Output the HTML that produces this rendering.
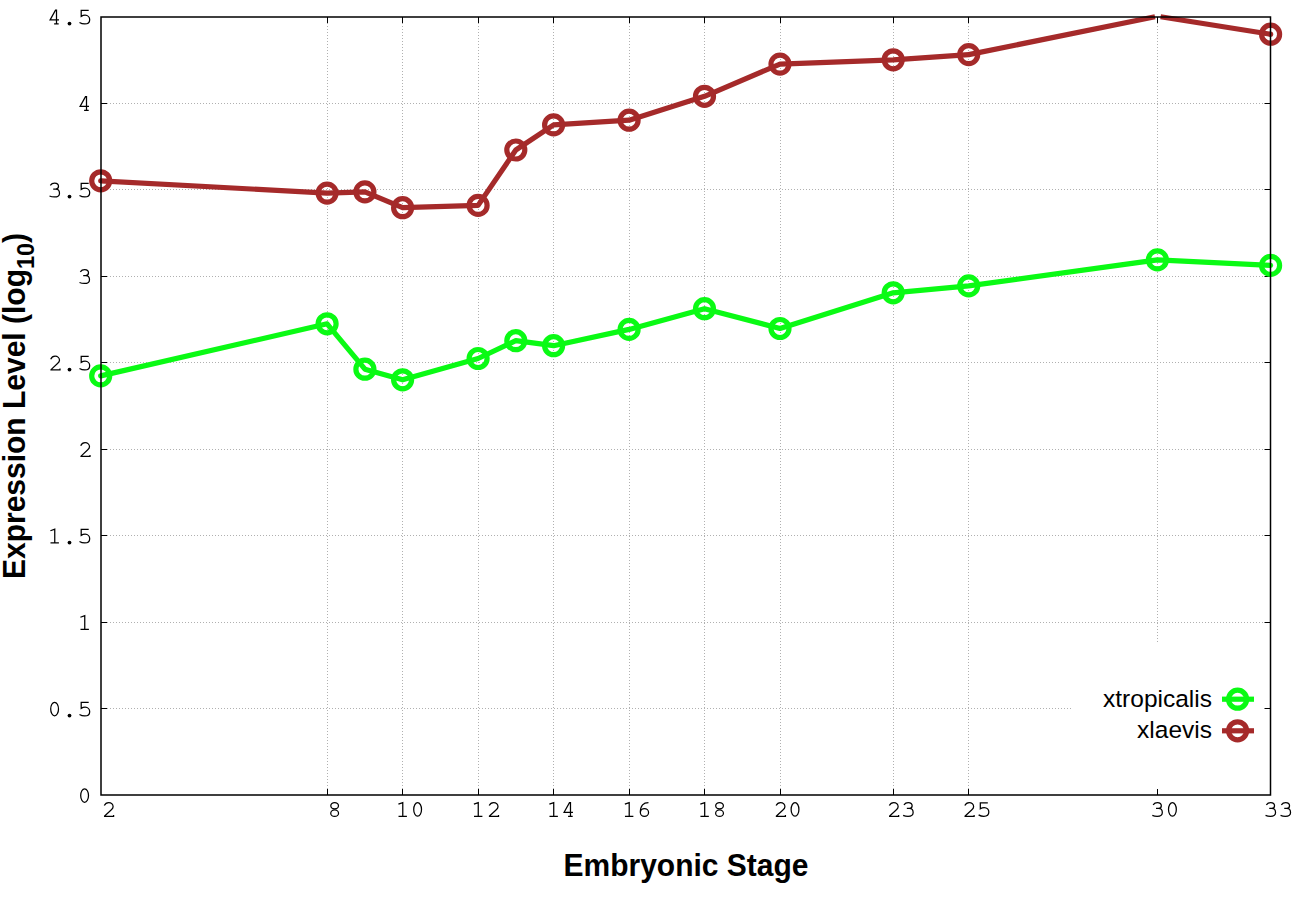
<!DOCTYPE html><html><head><meta charset="utf-8"><style>html,body{margin:0;padding:0;background:#fff;}svg{display:block}</style></head><body>
<svg width="1296" height="907" viewBox="0 0 1296 907">
<rect width="1296" height="907" fill="#fff"/>
<path d="M107.0 708.5H1264.5 M107.0 622.5H1264.5 M107.0 535.5H1264.5 M107.0 449.5H1264.5 M107.0 362.5H1264.5 M107.0 276.5H1264.5 M107.0 189.5H1264.5 M107.0 103.5H1264.5 M327.5 789.0V23.0 M402.5 789.0V23.0 M478.5 789.0V23.0 M553.5 789.0V23.0 M629.5 789.0V23.0 M704.5 789.0V23.0 M780.5 789.0V23.0 M893.5 789.0V23.0 M968.5 789.0V23.0 M1157.5 789.0V23.0" stroke="#b0b0b0" stroke-width="1" stroke-dasharray="1 2" fill="none"/>
<rect x="1071" y="642" width="198.5" height="152.0" fill="#fff"/>
<path d="M101.0 708.5h6M1270.5 708.5h-6 M101.0 622.5h6M1270.5 622.5h-6 M101.0 535.5h6M1270.5 535.5h-6 M101.0 449.5h6M1270.5 449.5h-6 M101.0 362.5h6M1270.5 362.5h-6 M101.0 276.5h6M1270.5 276.5h-6 M101.0 189.5h6M1270.5 189.5h-6 M101.0 103.5h6M1270.5 103.5h-6 M327.5 795.0v-6M327.5 17.0v6 M402.5 795.0v-6M402.5 17.0v6 M478.5 795.0v-6M478.5 17.0v6 M553.5 795.0v-6M553.5 17.0v6 M629.5 795.0v-6M629.5 17.0v6 M704.5 795.0v-6M704.5 17.0v6 M780.5 795.0v-6M780.5 17.0v6 M893.5 795.0v-6M893.5 17.0v6 M968.5 795.0v-6M968.5 17.0v6 M1157.5 795.0v-6M1157.5 17.0v6" stroke="#000" stroke-width="1" fill="none"/>
<polyline points="100.7,375.9 327.1,323.8 364.9,369.2 402.6,379.8 478.1,358.5 515.8,340.7 553.6,345.7 629.1,329.4 704.5,308.7 780.0,328.5 893.2,292.8 968.7,285.9 1157.4,259.9 1270.6,265.4" fill="none" stroke="#0afa14" stroke-width="5.2" stroke-linejoin="round" stroke-linecap="round"/>
<polyline points="100.7,180.8 327.1,193.1 364.9,191.9 402.6,207.7 478.1,205.4 515.8,150.0 553.6,124.9 629.1,120.2 704.5,96.3 780.0,64.1 893.2,59.8 968.7,54.6" fill="none" stroke="#a52a2a" stroke-width="5.2" stroke-linejoin="round" stroke-linecap="round"/>
<path d="M968.7 54.6L1155.0 16.8M1160.6 16.8L1270.6 34.2" fill="none" stroke="#a52a2a" stroke-width="5.2" stroke-linecap="butt"/>
<circle cx="1270.6" cy="34.2" r="2.6" fill="#a52a2a"/>
<circle cx="100.7" cy="375.9" r="9.0" fill="none" stroke="#0afa14" stroke-width="5.2"/>
<circle cx="327.1" cy="323.8" r="9.0" fill="none" stroke="#0afa14" stroke-width="5.2"/>
<circle cx="364.9" cy="369.2" r="9.0" fill="none" stroke="#0afa14" stroke-width="5.2"/>
<circle cx="402.6" cy="379.8" r="9.0" fill="none" stroke="#0afa14" stroke-width="5.2"/>
<circle cx="478.1" cy="358.5" r="9.0" fill="none" stroke="#0afa14" stroke-width="5.2"/>
<circle cx="515.8" cy="340.7" r="9.0" fill="none" stroke="#0afa14" stroke-width="5.2"/>
<circle cx="553.6" cy="345.7" r="9.0" fill="none" stroke="#0afa14" stroke-width="5.2"/>
<circle cx="629.1" cy="329.4" r="9.0" fill="none" stroke="#0afa14" stroke-width="5.2"/>
<circle cx="704.5" cy="308.7" r="9.0" fill="none" stroke="#0afa14" stroke-width="5.2"/>
<circle cx="780.0" cy="328.5" r="9.0" fill="none" stroke="#0afa14" stroke-width="5.2"/>
<circle cx="893.2" cy="292.8" r="9.0" fill="none" stroke="#0afa14" stroke-width="5.2"/>
<circle cx="968.7" cy="285.9" r="9.0" fill="none" stroke="#0afa14" stroke-width="5.2"/>
<circle cx="1157.4" cy="259.9" r="9.0" fill="none" stroke="#0afa14" stroke-width="5.2"/>
<circle cx="1270.6" cy="265.4" r="9.0" fill="none" stroke="#0afa14" stroke-width="5.2"/>
<circle cx="100.7" cy="180.8" r="9.0" fill="none" stroke="#a52a2a" stroke-width="5.2"/>
<circle cx="327.1" cy="193.1" r="9.0" fill="none" stroke="#a52a2a" stroke-width="5.2"/>
<circle cx="364.9" cy="191.9" r="9.0" fill="none" stroke="#a52a2a" stroke-width="5.2"/>
<circle cx="402.6" cy="207.7" r="9.0" fill="none" stroke="#a52a2a" stroke-width="5.2"/>
<circle cx="478.1" cy="205.4" r="9.0" fill="none" stroke="#a52a2a" stroke-width="5.2"/>
<circle cx="515.8" cy="150.0" r="9.0" fill="none" stroke="#a52a2a" stroke-width="5.2"/>
<circle cx="553.6" cy="124.9" r="9.0" fill="none" stroke="#a52a2a" stroke-width="5.2"/>
<circle cx="629.1" cy="120.2" r="9.0" fill="none" stroke="#a52a2a" stroke-width="5.2"/>
<circle cx="704.5" cy="96.3" r="9.0" fill="none" stroke="#a52a2a" stroke-width="5.2"/>
<circle cx="780.0" cy="64.1" r="9.0" fill="none" stroke="#a52a2a" stroke-width="5.2"/>
<circle cx="893.2" cy="59.8" r="9.0" fill="none" stroke="#a52a2a" stroke-width="5.2"/>
<circle cx="968.7" cy="54.6" r="9.0" fill="none" stroke="#a52a2a" stroke-width="5.2"/>
<circle cx="1270.6" cy="34.2" r="9.0" fill="none" stroke="#a52a2a" stroke-width="5.2"/>
<path d="M101.0 17.0H1270.5V795.0H101.0Z" stroke="#000" stroke-width="1.5" fill="none"/>
<g fill="none" stroke="#000" stroke-width="1.25"><g transform="translate(77.10,788.65)"><ellipse cx="7.5" cy="6.85" rx="3.9" ry="6.75"/></g><g transform="translate(47.10,702.15)"><ellipse cx="7.5" cy="6.85" rx="3.9" ry="6.75"/></g><g transform="translate(62.10,702.15)"><circle cx="7.4" cy="13.4" r="1.9" fill="#000" stroke="none"/></g><g transform="translate(77.10,702.15)"><path d="M11.6 0.2H4.1V6.2C5.5 5.3 6.8 5.0 8.0 5.0C10.9 5.0 12.6 7.3 12.6 9.5C12.6 12.0 10.6 13.8 7.6 13.8C5.6 13.8 3.8 13.2 2.4 12.3"/></g><g transform="translate(77.10,615.65)"><path d="M3.3 1.6L7.65 0V13.7M3.4 13.7H11.8"/></g><g transform="translate(47.10,529.15)"><path d="M3.3 1.6L7.65 0V13.7M3.4 13.7H11.8"/></g><g transform="translate(62.10,529.15)"><circle cx="7.4" cy="13.4" r="1.9" fill="#000" stroke="none"/></g><g transform="translate(77.10,529.15)"><path d="M11.6 0.2H4.1V6.2C5.5 5.3 6.8 5.0 8.0 5.0C10.9 5.0 12.6 7.3 12.6 9.5C12.6 12.0 10.6 13.8 7.6 13.8C5.6 13.8 3.8 13.2 2.4 12.3"/></g><g transform="translate(77.10,442.65)"><path d="M3.6 3.0C4.5 1.0 6.2 0 8.0 0C10.5 0 12.4 1.8 12.4 4.2C12.4 5.5 11.6 6.5 10.4 7.4L3.9 13.5V13.7H12.9V12.3"/></g><g transform="translate(47.10,356.15)"><path d="M3.6 3.0C4.5 1.0 6.2 0 8.0 0C10.5 0 12.4 1.8 12.4 4.2C12.4 5.5 11.6 6.5 10.4 7.4L3.9 13.5V13.7H12.9V12.3"/></g><g transform="translate(62.10,356.15)"><circle cx="7.4" cy="13.4" r="1.9" fill="#000" stroke="none"/></g><g transform="translate(77.10,356.15)"><path d="M11.6 0.2H4.1V6.2C5.5 5.3 6.8 5.0 8.0 5.0C10.9 5.0 12.6 7.3 12.6 9.5C12.6 12.0 10.6 13.8 7.6 13.8C5.6 13.8 3.8 13.2 2.4 12.3"/></g><g transform="translate(77.10,269.65)"><path d="M3.2 2.2C4.2 0.8 5.8 0 7.5 0C9.8 0 11.4 1.4 11.4 3.2C11.4 4.7 10.4 5.9 8.6 5.9H6.1M8.6 5.9C10.9 5.9 12.4 7.8 12.4 10.0C12.4 12.3 10.3 13.8 7.3 13.8C5.4 13.8 3.7 13.4 2.4 12.8"/></g><g transform="translate(47.10,183.15)"><path d="M3.2 2.2C4.2 0.8 5.8 0 7.5 0C9.8 0 11.4 1.4 11.4 3.2C11.4 4.7 10.4 5.9 8.6 5.9H6.1M8.6 5.9C10.9 5.9 12.4 7.8 12.4 10.0C12.4 12.3 10.3 13.8 7.3 13.8C5.4 13.8 3.7 13.4 2.4 12.8"/></g><g transform="translate(62.10,183.15)"><circle cx="7.4" cy="13.4" r="1.9" fill="#000" stroke="none"/></g><g transform="translate(77.10,183.15)"><path d="M11.6 0.2H4.1V6.2C5.5 5.3 6.8 5.0 8.0 5.0C10.9 5.0 12.6 7.3 12.6 9.5C12.6 12.0 10.6 13.8 7.6 13.8C5.6 13.8 3.8 13.2 2.4 12.3"/></g><g transform="translate(77.10,96.65)"><path d="M9.4 13.7V0H8.4L3 9.7H11.9M7 13.7H11.6"/></g><g transform="translate(47.10,10.15)"><path d="M9.4 13.7V0H8.4L3 9.7H11.9M7 13.7H11.6"/></g><g transform="translate(62.10,10.15)"><circle cx="7.4" cy="13.4" r="1.9" fill="#000" stroke="none"/></g><g transform="translate(77.10,10.15)"><path d="M11.6 0.2H4.1V6.2C5.5 5.3 6.8 5.0 8.0 5.0C10.9 5.0 12.6 7.3 12.6 9.5C12.6 12.0 10.6 13.8 7.6 13.8C5.6 13.8 3.8 13.2 2.4 12.3"/></g><g transform="translate(100.70,802.60)"><path d="M3.6 3.0C4.5 1.0 6.2 0 8.0 0C10.5 0 12.4 1.8 12.4 4.2C12.4 5.5 11.6 6.5 10.4 7.4L3.9 13.5V13.7H12.9V12.3"/></g><g transform="translate(327.14,802.60)"><ellipse cx="7.5" cy="3.2" rx="3.85" ry="3.15"/><ellipse cx="7.5" cy="10.6" rx="3.9" ry="3.2"/></g><g transform="translate(395.12,802.60)"><path d="M3.3 1.6L7.65 0V13.7M3.4 13.7H11.8"/></g><g transform="translate(410.12,802.60)"><ellipse cx="7.5" cy="6.85" rx="3.9" ry="6.75"/></g><g transform="translate(470.60,802.60)"><path d="M3.3 1.6L7.65 0V13.7M3.4 13.7H11.8"/></g><g transform="translate(485.60,802.60)"><path d="M3.6 3.0C4.5 1.0 6.2 0 8.0 0C10.5 0 12.4 1.8 12.4 4.2C12.4 5.5 11.6 6.5 10.4 7.4L3.9 13.5V13.7H12.9V12.3"/></g><g transform="translate(546.08,802.60)"><path d="M3.3 1.6L7.65 0V13.7M3.4 13.7H11.8"/></g><g transform="translate(561.08,802.60)"><path d="M9.4 13.7V0H8.4L3 9.7H11.9M7 13.7H11.6"/></g><g transform="translate(621.56,802.60)"><path d="M3.3 1.6L7.65 0V13.7M3.4 13.7H11.8"/></g><g transform="translate(636.56,802.60)"><path d="M11.9 0.15C6.9 0.15 3.8 2.8 3.8 9.6"/><ellipse cx="7.9" cy="9.9" rx="4.1" ry="3.85"/></g><g transform="translate(697.04,802.60)"><path d="M3.3 1.6L7.65 0V13.7M3.4 13.7H11.8"/></g><g transform="translate(712.04,802.60)"><ellipse cx="7.5" cy="3.2" rx="3.85" ry="3.15"/><ellipse cx="7.5" cy="10.6" rx="3.9" ry="3.2"/></g><g transform="translate(772.52,802.60)"><path d="M3.6 3.0C4.5 1.0 6.2 0 8.0 0C10.5 0 12.4 1.8 12.4 4.2C12.4 5.5 11.6 6.5 10.4 7.4L3.9 13.5V13.7H12.9V12.3"/></g><g transform="translate(787.52,802.60)"><ellipse cx="7.5" cy="6.85" rx="3.9" ry="6.75"/></g><g transform="translate(885.74,802.60)"><path d="M3.6 3.0C4.5 1.0 6.2 0 8.0 0C10.5 0 12.4 1.8 12.4 4.2C12.4 5.5 11.6 6.5 10.4 7.4L3.9 13.5V13.7H12.9V12.3"/></g><g transform="translate(900.74,802.60)"><path d="M3.2 2.2C4.2 0.8 5.8 0 7.5 0C9.8 0 11.4 1.4 11.4 3.2C11.4 4.7 10.4 5.9 8.6 5.9H6.1M8.6 5.9C10.9 5.9 12.4 7.8 12.4 10.0C12.4 12.3 10.3 13.8 7.3 13.8C5.4 13.8 3.7 13.4 2.4 12.8"/></g><g transform="translate(961.22,802.60)"><path d="M3.6 3.0C4.5 1.0 6.2 0 8.0 0C10.5 0 12.4 1.8 12.4 4.2C12.4 5.5 11.6 6.5 10.4 7.4L3.9 13.5V13.7H12.9V12.3"/></g><g transform="translate(976.22,802.60)"><path d="M11.6 0.2H4.1V6.2C5.5 5.3 6.8 5.0 8.0 5.0C10.9 5.0 12.6 7.3 12.6 9.5C12.6 12.0 10.6 13.8 7.6 13.8C5.6 13.8 3.8 13.2 2.4 12.3"/></g><g transform="translate(1149.92,802.60)"><path d="M3.2 2.2C4.2 0.8 5.8 0 7.5 0C9.8 0 11.4 1.4 11.4 3.2C11.4 4.7 10.4 5.9 8.6 5.9H6.1M8.6 5.9C10.9 5.9 12.4 7.8 12.4 10.0C12.4 12.3 10.3 13.8 7.3 13.8C5.4 13.8 3.7 13.4 2.4 12.8"/></g><g transform="translate(1164.92,802.60)"><ellipse cx="7.5" cy="6.85" rx="3.9" ry="6.75"/></g><g transform="translate(1263.14,802.60)"><path d="M3.2 2.2C4.2 0.8 5.8 0 7.5 0C9.8 0 11.4 1.4 11.4 3.2C11.4 4.7 10.4 5.9 8.6 5.9H6.1M8.6 5.9C10.9 5.9 12.4 7.8 12.4 10.0C12.4 12.3 10.3 13.8 7.3 13.8C5.4 13.8 3.7 13.4 2.4 12.8"/></g><g transform="translate(1278.14,802.60)"><path d="M3.2 2.2C4.2 0.8 5.8 0 7.5 0C9.8 0 11.4 1.4 11.4 3.2C11.4 4.7 10.4 5.9 8.6 5.9H6.1M8.6 5.9C10.9 5.9 12.4 7.8 12.4 10.0C12.4 12.3 10.3 13.8 7.3 13.8C5.4 13.8 3.7 13.4 2.4 12.8"/></g></g>
<text transform="translate(686,876) scale(1,1.04)" x="0" y="0" text-anchor="middle" font-family="Liberation Sans" font-weight="bold" font-size="30" fill="#000">Embryonic Stage</text>
<g transform="translate(25,579) rotate(-90) scale(1,1.04)"><text x="0" y="0" font-family="Liberation Sans" font-weight="bold" font-size="30" fill="#000">Expression Level (log<tspan font-size="23.5" dy="8.3">10</tspan><tspan dy="-8.3">)</tspan></text></g>
<text x="1212" y="707" text-anchor="end" font-family="Liberation Sans" font-size="24.5" fill="#000">xtropicalis</text>
<text x="1212" y="738.3" text-anchor="end" font-family="Liberation Sans" font-size="24.5" fill="#000">xlaevis</text>
<path d="M1222 699.2H1254" stroke="#0afa14" stroke-width="5.2"/>
<circle cx="1237.6" cy="699.2" r="9.0" fill="none" stroke="#0afa14" stroke-width="5.2"/>
<path d="M1222 730.8H1254" stroke="#a52a2a" stroke-width="5.2"/>
<circle cx="1237.6" cy="730.8" r="9.0" fill="none" stroke="#a52a2a" stroke-width="5.2"/>
</svg></body></html>
